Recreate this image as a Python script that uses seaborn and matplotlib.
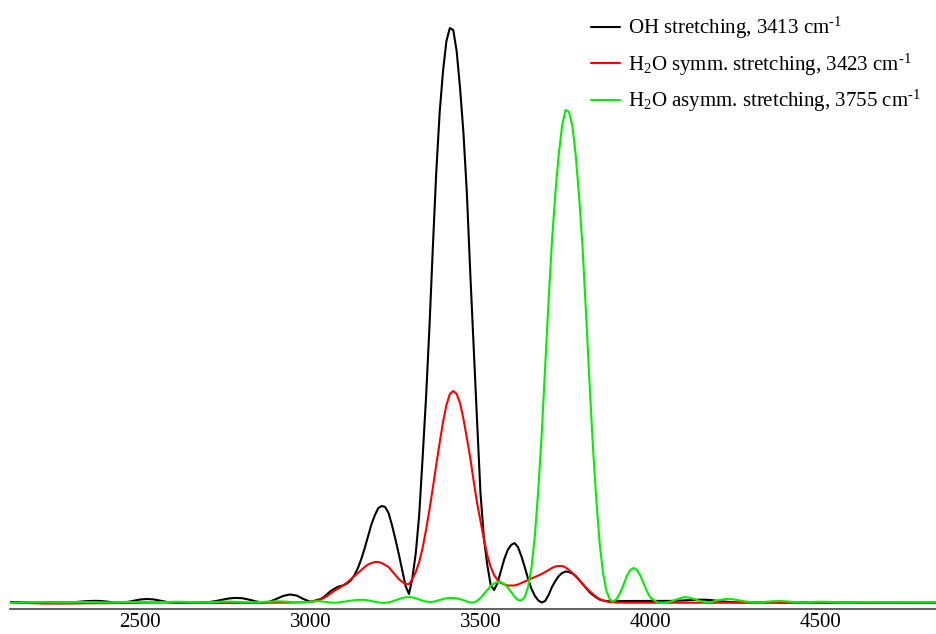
import numpy as np
import pandas as pd
import matplotlib
matplotlib.use("Agg")
import matplotlib.pyplot as plt
import seaborn as sns

# ---- data (intensity in arbitrary units) ----
wn_low = np.arange(2120, 2981, 20)    # 2120 .. 2980
wn_mid = np.arange(3000, 4001, 10)    # 3000 .. 4000
wn_high = np.arange(4020, 4841, 20)   # 4020 .. 4840

oh_low = [1.0, 0.8, 0.5, 0.3, 0.3, 0.5, 0.6, 0.5, 0.4, 0.6,
          1.2, 1.8, 2.1, 2.1, 1.5, 0.7, 0.3, 0.8, 2.2, 3.5,
          4.0, 3.6, 2.3, 1.0, 0.3, 0.2, 0.4, 0.5, 0.5, 0.8,
          1.8, 3.2, 4.5, 5.1, 4.8, 3.4, 1.6, 0.5, 1.2, 4.0,
          7.0, 8.5, 7.5, 4.0]
oh_mid = [1.3, 2, 3, 4, 6, 9, 12, 14, 16, 17,
          18, 20, 23, 28, 35, 44, 55, 67, 79, 88,
          95, 97, 96, 90, 78, 64, 49, 33, 17, 9,
          25, 50, 88, 145, 205, 275, 355, 430, 490, 532,
          562, 575, 573, 552, 515, 470, 410, 330, 255, 182,
          110, 65, 38, 18, 13, 20, 32, 44, 53, 58,
          60, 56, 47, 36, 24, 14, 7, 2.5, 0.5, 2,
          8, 16, 22, 27, 30, 31.5, 31, 29.5, 27, 23,
          19, 15, 11, 8, 5.5, 3.5, 2.5, 2, 1.7, 1.7,
          1.8, 1.9, 2, 2, 2, 2, 2, 2, 2, 2,
          2]
oh_high = [2, 2, 2.1, 2.3, 2.6, 3, 3.3, 3.3, 2.8, 2,
           1.3, 0.8, 0.6, 0.7, 0.9, 1, 0.9, 0.6, 0.4, 0.4,
           0.5, 0.6, 0.6, 0.5, 0.4, 0.4, 0.5, 0.6, 0.6, 0.5,
           0.4, 0.4, 0.5, 0.5, 0.5, 0.4, 0.4, 0.4, 0.4, 0.4,
           0.4, 0.4]

sym_low = [0.3, 0.2, 0, -0.2, -0.4, -0.5, -0.6, -0.6, -0.5, -0.4,
           -0.3, -0.3, -0.3, -0.3, -0.2, -0.1, 0, 0.1, 0.2, 0.3,
           0.4, 0.5, 0.5, 0.5, 0.4, 0.3, 0.3, 0.3, 0.2, 0.2,
           0.1, 0, -0.1, -0.1, 0, 0.1, 0.2, 0.3, 0.3, 0.3,
           0.3, 0.4, 0.5, 0.7]
sym_mid = [1, 1.5, 2.5, 3.5, 5, 7, 9.5, 12, 14, 16,
           18.5, 21, 24, 27, 30, 33, 36, 38.5, 40, 41,
           41, 40, 38, 36, 32, 28, 24, 21, 19, 19,
           24, 31, 41, 55, 73, 93, 115, 138, 160, 181,
           198, 209, 212, 209, 200, 184, 165, 145, 122, 100,
           82, 64, 48, 36, 28, 23, 20, 18.5, 17.5, 17.5,
           17.5, 18.5, 20, 21.5, 23, 24.5, 26, 27.5, 29, 31,
           33, 35, 36.5, 37, 37, 35.5, 33, 30, 26.5, 23,
           19, 15.5, 12, 9, 6, 4, 2.5, 1.5, 1, 0.7,
           0.5, 0.4, 0.3, 0.3, 0.3, 0.3, 0.3, 0.3, 0.3, 0.3,
           0.3]
sym_high = [0.3, 0.3, 0.3, 0.3, 0.3, 0.3, 0.3, 0.3, 0.3, 0.3,
            0.3, 0.3, 0.2, 0.2, 0.2, 0.2, 0.2, 0.2, 0.2, 0.2,
            0.2, 0.2, 0.2, 0.2, 0.2, 0.2, 0.2, 0.2, 0.2, 0.2,
            0.2, 0.2, 0.2, 0.2, 0.2, 0.2, 0.2, 0.2, 0.2, 0.2,
            0.2, 0.2]

asym_low = [0.3, 0.5, 0.8, 1, 1, 0.8, 0.6, 0.5, 0.6, 0.8,
            1, 1, 0.9, 0.7, 0.6, 0.7, 0.9, 1.1, 1.1, 1,
            0.8, 0.7, 0.8, 1, 1.2, 1.2, 1, 0.8, 0.7, 0.8,
            1, 1.3, 1.4, 1.2, 0.9, 0.7, 0.8, 1.1, 1.5, 1.7,
            1.5, 1.1, 0.8, 0.8]
asym_mid = [1.2, 1.6, 1.8, 1.7, 1.3, 0.8, 0.4, 0.3, 0.5, 0.9,
            1.4, 1.9, 2.4, 2.8, 3.1, 3.2, 3.1, 2.6, 1.9, 1.2,
            0.6, 0.2, 0.2, 0.6, 1.5, 2.7, 3.9, 5, 5.7, 6,
            5.6, 4.7, 3.5, 2.3, 1.4, 1, 1.2, 2, 3, 4,
            4.7, 5, 5, 4.6, 3.8, 2.8, 1.5, 0.5, 0.5, 2,
            5, 9, 13, 17, 19.5, 21, 21, 19, 15.5, 11,
            6.5, 3, 2.5, 6, 16, 36, 68, 114, 170, 236,
            302, 362, 410, 449, 478, 493, 491, 477, 447, 405,
            355, 290, 222, 158, 104, 60, 30, 12, 3.5, 1.5,
            4, 10, 18, 27, 33, 35, 33, 27, 19, 11,
            5]
asym_high = [0.5, 0.2, 1.5, 4, 6, 4.8, 2.5, 0.7, 1.2, 2.8,
             4, 3.8, 2.6, 1.4, 0.7, 0.7, 1.2, 1.8, 2, 1.6,
             1, 0.6, 0.7, 1.1, 1.3, 1.1, 0.8, 0.6, 0.7, 0.9,
             1, 1, 0.9, 0.8, 0.8, 0.9, 1, 1, 1, 1,
             1, 1]

labels = [r"OH stretching, 3413 cm$^{\text{-1}}$",
          r"H$_{\text{2}}$O symm. stretching, 3423 cm$^{\text{-1}}$",
          r"H$_{\text{2}}$O asymm. stretching, 3755 cm$^{\text{-1}}$"]
colors = ["#000000", "#ff0000", "#00f000"]

xticks_major = [2500, 3000, 3500, 4000, 4500]
xticks_minor = [2250, 2750, 3250, 3750, 4250, 4750]

# ---- build long-form table ----
wn = np.concatenate([wn_low, wn_mid, wn_high])
series = [oh_low + oh_mid + oh_high,
          sym_low + sym_mid + sym_high,
          asym_low + asym_mid + asym_high]
frames = []
for lab, vals in zip(labels, series):
    frames.append(pd.DataFrame({"wavenumber": wn, "intensity": vals, "mode": lab}))
df = pd.concat(frames, ignore_index=True)

# ---- style ----
sns.set_style("white")
plt.rcParams["font.family"] = ["Liberation Serif", "DejaVu Serif"]
plt.rcParams["mathtext.fontset"] = "custom"
plt.rcParams["mathtext.rm"] = "Liberation Serif"
plt.rcParams["mathtext.it"] = "Liberation Serif:italic"
plt.rcParams["mathtext.bf"] = "Liberation Serif:bold"
plt.rcParams["text.color"] = "black"
plt.rcParams["xtick.labelcolor"] = "black"

fig = plt.figure(figsize=(9.37, 6.34), dpi=100)
ax = fig.add_axes([10 / 937, 25 / 634, 927 / 937, 609 / 634])

sns.lineplot(data=df, x="wavenumber", y="intensity", hue="mode",
             hue_order=labels, palette=colors, estimator=None,
             linewidth=1.5, ax=ax, legend=True)

leg = ax.get_legend()
handles = leg.legend_handles
texts = [t.get_text() for t in leg.get_texts()]
leg.remove()
ax.legend(handles, texts, loc="upper right",
          bbox_to_anchor=(921 / 937, 1 - 15 / 634), bbox_transform=fig.transFigure,
          frameon=False, fontsize=15, handlelength=1.4, handletextpad=0.4,
          labelspacing=0.5, borderpad=0, borderaxespad=0, labelcolor="black")

ax.set_xlim(2118, 4841)
ax.set_ylim(-6, 603)
ax.set_xlabel("")
ax.set_ylabel("")
ax.set_yticks([])
ax.set_xticks(xticks_major)
ax.set_xticks(xticks_minor, minor=True)
ax.set_xticklabels([str(t) for t in xticks_major])
ax.tick_params(axis="x", which="major", direction="in", length=9.5, width=1.0,
               color="#333333", labelsize=15, pad=3, labelcolor="black")
ax.tick_params(axis="x", which="minor", direction="in", length=5, width=1.0,
               color="#333333")
for side in ["top", "left", "right"]:
    ax.spines[side].set_visible(False)
ax.spines["bottom"].set_color("#444444")
ax.spines["bottom"].set_linewidth(1.2)

fig.savefig("out.png", dpi=100)
